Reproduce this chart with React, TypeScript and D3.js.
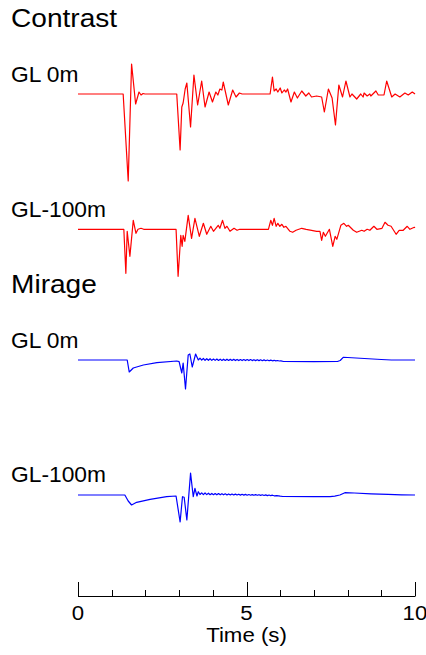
import React from "react";
import * as d3 from "d3";

// [time (s), amplitude]
const contrastGL0: [number, number][] = [
  [0, 0], [1.34, 0], [1.49, -8.7], [1.59, 3.0], [1.71, -1.0], [1.81, 0.2], [1.87, -0.1], [1.93, 0.05], [1.99, 0],
  [2.93, 0], [3.03, -5.6], [3.08, -1.3], [3.12, -0.9], [3.18, 0.5], [3.23, 1.1], [3.34, -3.3], [3.44, 1.9],
  [3.55, -1.1], [3.67, 1.3], [3.77, -1.3], [3.89, 0.2], [3.99, -0.8], [4.09, 0.2], [4.15, -0.1], [4.21, 0.5],
  [4.27, 0.4], [4.31, 1.2], [4.46, -1.1], [4.59, 0.4], [4.69, -0.3], [4.79, 0.1], [4.87, 0],
  [5.70, 0], [5.77, 1.7], [5.82, 0.3], [5.88, 0.5], [5.93, 0.2], [6.0, 0.6], [6.05, 0.1], [6.12, 0.4],
  [6.17, 0.2], [6.22, 0.5], [6.32, -0.8], [6.42, 0.2], [6.51, -0.4], [6.64, 0.3], [6.76, -0.2], [6.85, 0.1],
  [6.93, -0.3], [7.08, -0.2], [7.23, -0.3], [7.31, -1.8], [7.43, 0.5], [7.54, -0.4], [7.64, -3.1], [7.74, 0.9],
  [7.85, -0.3], [7.95, 1.3], [8.07, -0.3], [8.13, 0], [8.27, -0.5], [8.39, 0], [8.46, -0.3], [8.49, 0.1],
  [8.58, -0.2], [8.66, 0], [8.69, -0.2], [8.84, 0.3], [8.91, -0.1], [9.08, -0.1], [9.16, 1.3], [9.31, -0.3],
  [9.41, 0], [9.55, -0.3], [9.70, 0.1], [9.80, -0.1], [9.92, 0.2], [10.0, 0],
];

const contrastGL100: [number, number][] = [
  [0, 0], [1.36, 0], [1.42, -4.4], [1.46, -0.2], [1.54, -2.7], [1.64, 0.9], [1.72, -0.4], [1.78, 0], [1.87, 0.1], [1.95, 0],
  [2.91, 0], [2.97, -4.7], [3.05, -0.6], [3.09, -1.7], [3.12, -0.6], [3.17, -1.2], [3.27, 1.4], [3.37, -0.9],
  [3.47, 1.1], [3.60, -0.7], [3.72, 0.6], [3.82, -0.5], [3.94, 0.3], [4.02, -0.2], [4.16, 0.4], [4.21, 0.1],
  [4.29, 0.9], [4.36, 0.1], [4.42, 0.3], [4.51, -0.2], [4.63, 0.1], [4.72, -0.1], [4.80, 0],
  [5.65, 0], [5.72, 0.9], [5.77, 0.4], [5.82, 1.1], [5.88, 0.3], [5.93, 0.6], [5.99, 0.3], [6.05, 0.5],
  [6.11, 0.2], [6.17, 0.3], [6.29, -0.2], [6.37, -0.3], [6.47, -0.1], [6.64, 0.1], [6.77, 0], [6.93, -0.1],
  [7.08, -0.2], [7.18, -0.2], [7.23, -1.1], [7.28, -0.3], [7.34, -0.7], [7.46, 0], [7.56, -1.7], [7.63, -0.7],
  [7.68, -1.0], [7.80, 0.4], [7.89, 0.6], [7.97, 0.3], [8.02, 0.4], [8.17, -0.1], [8.27, -0.3], [8.42, -0.1],
  [8.49, -0.2], [8.58, 0], [8.66, -0.1], [8.78, 0.3], [8.87, 0], [9.02, 0.1], [9.11, 0.7], [9.20, 0.4],
  [9.29, 0.3], [9.44, -0.5], [9.53, -0.1], [9.65, -0.1], [9.77, 0.3], [9.85, 0], [9.98, 0.2], [10.0, 0.15],
];

const mirageGL0: [number, number][] = [
  [0, 0], [1.46, 0], [1.52, -1.2], [1.64, -0.8], [1.94, -0.5], [2.34, -0.27], [2.93, -0.1], [3.0, -0.17],
  [3.08, -1.3], [3.12, -0.3], [3.19, -2.9], [3.27, 0.5], [3.32, 0.6], [3.39, -0.7], [3.49, 0.6], [3.57, 0],
  [3.62, 0.18], [3.67, -0.02], [3.72, 0.15], [3.77, -0.03], [3.82, 0.13], [3.87, -0.03], [3.92, 0.12], [3.97, -0.04],
  [4.02, 0.1], [4.07, -0.04], [4.12, 0.1], [4.17, -0.05], [4.22, 0.09], [4.27, -0.05], [4.32, 0.08], [4.37, -0.05],
  [4.42, 0.08], [4.47, -0.05], [4.52, 0.07], [4.57, -0.05], [4.62, 0.07], [4.67, -0.06], [4.72, 0.06], [4.77, -0.06],
  [4.82, 0.05], [4.87, -0.06], [4.92, 0.05], [4.97, -0.06], [5.02, 0.04], [5.07, -0.06], [5.12, 0.04], [5.17, -0.06],
  [5.22, 0.03], [5.27, -0.06], [5.32, 0.03], [5.37, -0.06], [5.42, 0.02], [5.47, -0.07], [5.52, 0.01], [5.57, -0.07],
  [5.62, 0], [5.67, -0.08], [5.72, -0.01], [5.77, -0.08], [5.82, -0.03], [5.87, -0.09], [5.92, -0.05], [5.97, -0.1],
  [6.02, -0.08], [6.1, -0.15], [7.0, -0.16], [7.7, -0.15], [7.78, -0.05], [7.87, 0.27], [8.0, 0.25],
  [8.5, 0.15], [9.0, 0.05], [9.3, 0], [10.0, 0],
];

const mirageGL100: [number, number][] = [
  [0, 0], [1.39, 0], [1.49, -0.6], [1.54, -0.8], [1.59, -1.0], [1.74, -0.73], [2.14, -0.43], [2.63, -0.17],
  [2.91, -0.1], [3.03, -2.7], [3.10, -0.17], [3.15, -0.23], [3.23, -2.5], [3.34, 2.2], [3.42, -0.17], [3.47, 0.67],
  [3.53, -0.1], [3.57, 0.33], [3.62, 0.05], [3.67, 0.22], [3.72, 0.04], [3.77, 0.2], [3.82, 0.04], [3.87, 0.18],
  [3.92, 0.03], [3.97, 0.16], [4.02, 0.03], [4.07, 0.15], [4.12, 0.02], [4.17, 0.14], [4.22, 0.02], [4.27, 0.13],
  [4.32, 0.02], [4.37, 0.12], [4.42, 0.01], [4.47, 0.11], [4.52, 0.01], [4.57, 0.1], [4.62, 0], [4.67, 0.09],
  [4.72, 0], [4.77, 0.08], [4.82, -0.01], [4.87, 0.07], [4.92, -0.01], [4.97, 0.06], [5.02, -0.02], [5.07, 0.05],
  [5.12, -0.02], [5.17, 0.04], [5.22, -0.03], [5.27, 0.04], [5.32, -0.03], [5.37, 0.03], [5.42, -0.04], [5.47, 0.02],
  [5.52, -0.05], [5.57, 0.01], [5.62, -0.06], [5.67, 0], [5.72, -0.07], [5.77, -0.02], [5.82, -0.08], [5.9, -0.06],
  [6.0, -0.12], [6.08, -0.15], [7.0, -0.17], [7.48, -0.17], [7.62, -0.12], [7.77, 0], [7.92, 0.23], [8.2, 0.2],
  [8.7, 0.12], [9.2, 0.06], [9.6, 0.02], [10.0, 0],
];

const sectionTitles = ["Contrast", "Mirage"];
const traceLabels = ["GL 0m", "GL-100m", "GL 0m", "GL-100m"];
const xTickValues = d3.range(0, 11);
const xMajorTicks = [0, 5, 10];
const xAxisTitle = "Time (s)";

const W = 426;
const H = 655;
const FONT = "'Liberation Sans', Arial, Helvetica, sans-serif";
const SX = 1.06;

function Label({ x, y, size, anchor, children }: { x: number; y: number; size: number; anchor?: string; children: any }) {
  return (
    <text
      transform={`translate(${x},${y}) scale(${SX},1)`}
      fontSize={size}
      textAnchor={anchor || "start"}
      fill="#000"
    >
      {children}
    </text>
  );
}

export default function App() {
  const x = d3.scaleLinear().domain([0, 10]).range([78, 415]);
  const traces = [
    { data: contrastGL0, base: 94, color: "#ff0000", label: traceLabels[0], labelY: 81.5 },
    { data: contrastGL100, base: 229.3, color: "#ff0000", label: traceLabels[1], labelY: 216.5 },
    { data: mirageGL0, base: 360, color: "#0000ff", label: traceLabels[2], labelY: 347.5 },
    { data: mirageGL100, base: 495, color: "#0000ff", label: traceLabels[3], labelY: 482 },
  ];
  const titles = [
    { text: sectionTitles[0], y: 27 },
    { text: sectionTitles[1], y: 293 },
  ];
  const axisY = 596;

  return (
    <svg
      width={W}
      height={H}
      style={{ position: "absolute", left: 0, top: 0, background: "#fff", overflow: "hidden" }}
      fontFamily={FONT}
    >
      <rect x={0} y={0} width={W} height={H} fill="#fff" />
      {titles.map((t, i) => (
        <Label key={"t" + i} x={11} y={t.y} size={26.5}>
          {t.text}
        </Label>
      ))}
      {traces.map((tr, i) => {
        const y = d3.scaleLinear().domain([-1, 1]).range([tr.base + 10, tr.base - 10]);
        const line = d3
          .line<[number, number]>()
          .x((d) => x(d[0]))
          .y((d) => y(d[1]));
        return (
          <g key={"tr" + i}>
            <Label x={11} y={tr.labelY} size={21.5}>
              {tr.label}
            </Label>
            <path d={line(tr.data) || ""} fill="none" stroke={tr.color} strokeWidth={1.2} strokeLinejoin="round" />
          </g>
        );
      })}
      <g stroke="#000" strokeWidth={1}>
        <line x1={x(0)} x2={x(10)} y1={axisY + 0.5} y2={axisY + 0.5} />
        {xTickValues.map((t) => {
          const major = xMajorTicks.includes(t);
          const px = Math.round(x(t)) + 0.5;
          return <line key={"tk" + t} x1={px} x2={px} y1={axisY + 0.5} y2={axisY - (major ? 14 : 6)} />;
        })}
      </g>
      {xMajorTicks.map((t) => (
        <Label key={"tl" + t} x={x(t)} y={620} size={21} anchor="middle">
          {t}
        </Label>
      ))}
      <Label x={x(5)} y={642} size={21} anchor="middle">
        {xAxisTitle}
      </Label>
    </svg>
  );
}
